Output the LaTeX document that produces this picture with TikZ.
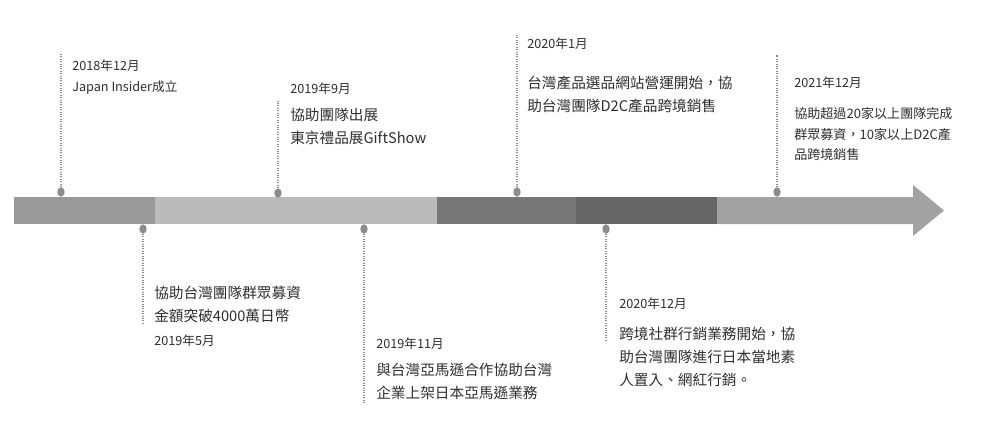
\documentclass[tikz,border=0pt]{standalone}
\usepackage{fontspec}
\newfontfamily\cjk{Noto Sans CJK TC}
\usepackage{xcolor}
\usetikzlibrary{shapes.geometric}

\definecolor{segA}{HTML}{9A9A9A}
\definecolor{segB}{HTML}{BBBBBB}
\definecolor{segC}{HTML}{777777}
\definecolor{segD}{HTML}{666666}
\definecolor{segE}{HTML}{A2A2A2}
\definecolor{pin}{HTML}{8C8C8C}
\definecolor{ink}{HTML}{2E2E2E}

\tikzset{
  pin/.style={ellipse, fill=pin, minimum width=5.5pt, minimum height=7pt, inner sep=0pt},
  stem/.style={draw=pin, densely dotted, line width=0.8pt},
  date/.style={anchor=west, inner sep=0pt, text=ink, font=\cjk\fontsize{9.5}{12}\selectfont},
  desc/.style={anchor=west, inner sep=0pt, align=left, text=ink, font=\cjk\fontsize{11}{17.2}\selectfont},
  descsm/.style={desc, font=\cjk\fontsize{9.8}{15.5}\selectfont}
}

\begin{document}
\begin{tikzpicture}[x=0.75pt, y=-0.75pt]
  \useasboundingbox (0,0) rectangle (1002,432);
  % 時間軸
  \fill[segA] (14,197) rectangle (155,224);
  \fill[segB] (155,197) rectangle (437,224);
  \fill[segC] (437,197) rectangle (576,224);
  \fill[segD] (576,197) rectangle (717,224);
  \fill[segE] (717,197) -- (913,197) -- (913,185) -- (944,210.5)
       -- (913,236) -- (913,224) -- (717,224) -- cycle;

  % 上方事件
  \node[pin] (p1) at (61,192) {};
  \coordinate (t1) at (61,53);
  \draw[stem] (p1) -- (t1);
  \node[date] (d1) at (72,66) {2018年12月};
  \node[date] (e1) at (72,88) {Japan Insider成立};

  \node[pin] (p3) at (278,193) {};
  \coordinate (t3) at (278,100);
  \draw[stem] (p3) -- (t3);
  \node[date] (d3) at (290,89) {2019年9月};
  \node[desc] (e3) at (290,126) {協助團隊出展\\東京禮品展GiftShow};

  \node[pin] (p5) at (517,192) {};
  \coordinate (t5) at (517,35);
  \draw[stem] (p5) -- (t5);
  \node[date] (d5) at (527,44) {2020年1月};
  \node[desc] (e5) at (527,94.5) {台灣產品選品網站營運開始，協\\助台灣團隊D2C產品跨境銷售};

  \node[pin] (p7) at (777,192) {};
  \coordinate (t7) at (777,55);
  \draw[stem] (p7) -- (t7);
  \node[date] (d7) at (794,83) {2021年12月};
  \node[descsm] (e7) at (794,134) {協助超過20家以上團隊完成\\群眾募資，10家以上D2C產\\品跨境銷售};

  % 下方事件
  \node[pin] (p2) at (143,229) {};
  \coordinate (b2) at (143,323);
  \draw[stem] (p2) -- (b2);
  \node[desc] (e2) at (154,304.5) {協助台灣團隊群眾募資\\金額突破4000萬日幣};
  \node[date] (d2) at (154,341) {2019年5月};

  \node[pin] (p4) at (364,229) {};
  \coordinate (b4) at (364,402);
  \draw[stem] (p4) -- (b4);
  \node[date] (d4) at (376,344) {2019年11月};
  \node[desc] (e4) at (376,381) {與台灣亞馬遜合作協助台灣\\企業上架日本亞馬遜業務};

  \node[pin] (p6) at (606,229) {};
  \coordinate (b6) at (606,340);
  \draw[stem] (p6) -- (b6);
  \node[date] (d6) at (619,304) {2020年12月};
  \node[desc] (e6) at (619,357) {跨境社群行銷業務開始，協\\助台灣團隊進行日本當地素\\人置入、網紅行銷。};
\end{tikzpicture}
\end{document}
